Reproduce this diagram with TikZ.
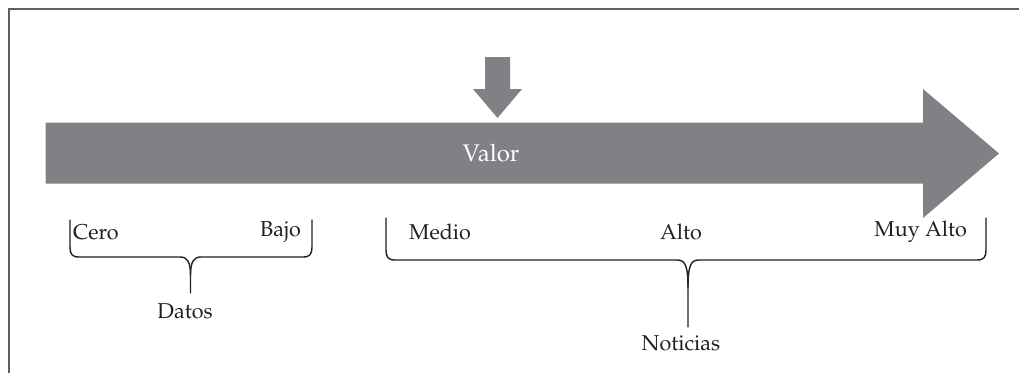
\documentclass[tikz,border=0pt]{standalone}
\usepackage[T1]{fontenc}
\renewcommand{\rmdefault}{ppl}
\definecolor{arrowgray}{RGB}{128,129,132}
\definecolor{framegray}{RGB}{95,95,95}
\definecolor{ink}{RGB}{35,31,32}
\tikzset{
  lbl/.style={font=\fontsize{21.5}{25}\selectfont, text=ink, inner sep=0pt, anchor=center},
  bracepath/.style={draw=ink, line width=1.4pt, line cap=round, line join=round},
  fillarrow/.style={fill=arrowgray, draw=none}
}
\begin{document}
\begin{tikzpicture}[x=1pt,y=-1pt]
\useasboundingbox (0,0) rectangle (1019,373);
% frame (only top and left visible)
\draw[framegray, line width=2pt] (8.5,373) -- (8.5,8.5) -- (1019,8.5);
% big arrow
\fill[fillarrow] (45.5,122.5) -- (923,122.5) -- (923,89) -- (999,153.5) -- (923,218) -- (923,183.5) -- (45.5,183.5) -- cycle;
% small arrow
\fill[fillarrow] (485,57) -- (510,57) -- (510,89) -- (522,89) -- (497.5,118) -- (473,89) -- (485,89) -- cycle;
\node[lbl, text=white, font=\fontsize{24}{28}\selectfont] (valor) at (491,153) {Valor};
% labels
\node[lbl, anchor=west] (cero) at (73,232) {Cero};
\node[lbl, anchor=east] (bajo) at (301,232) {Bajo};
\node[lbl, anchor=west] (medio) at (409,232) {Medio};
\node[lbl] (alto) at (681,232) {Alto};
\node[lbl, anchor=east] (muyalto) at (967,232) {Muy Alto};
\node[lbl] (datos) at (185,311) {Datos};
\node[lbl] (noticias) at (681,343) {Noticias};
% left brace
\coordinate (lb1) at (70,220);
\coordinate (lb2) at (312,220);
\coordinate (lbc) at (190.5,293);
\path[bracepath] (lb1) -- (70,247) .. controls (70,254) and (72,257) .. (79,257) -- (180,257) .. controls (187,257) and (190.5,261) .. (190.5,276) -- (lbc);
\path[bracepath] (lb2) -- (312,247) .. controls (312,254) and (310,257) .. (303,257) -- (201,257) .. controls (194,257) and (190.5,261) .. (190.5,276);
% right brace
\coordinate (rb1) at (386,218);
\coordinate (rb2) at (986,218);
\coordinate (rbc) at (688,327);
\path[bracepath] (rb1) -- (386,250) .. controls (386,257) and (388,260) .. (395,260) -- (677,260) .. controls (685,260) and (688,265) .. (688,288) -- (rbc);
\path[bracepath] (rb2) -- (986,250) .. controls (986,257) and (984,260) .. (977,260) -- (699,260) .. controls (691,260) and (688,265) .. (688,288);
\end{tikzpicture}
\end{document}
